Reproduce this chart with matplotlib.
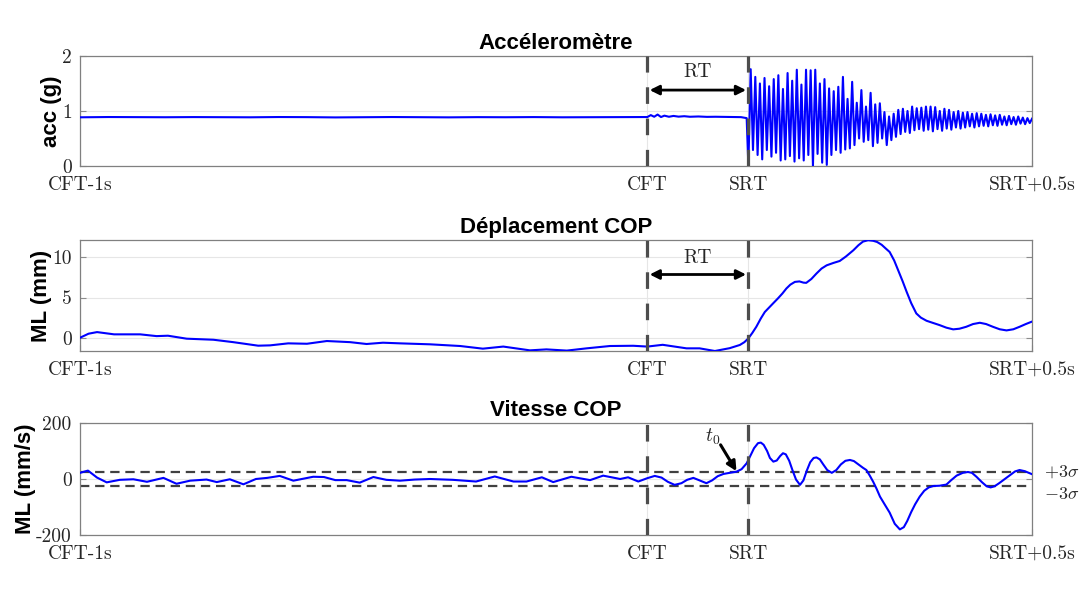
import numpy as np
import matplotlib.pyplot as plt

plt.rcParams['mathtext.fontset'] = 'cm'

# time in s, relative to CFT
cft = 0.0
srt = 0.178
t_end = srt + 0.5
tick_labels = ["CFT-1s", "CFT", "SRT", "SRT+0.5s"]

# accelerometer (g) before SRT
acc_pre_t = [-1.0, -0.95, -0.9, -0.85, -0.8, -0.75, -0.7, -0.65, -0.6, -0.55,
             -0.5, -0.45, -0.4, -0.35, -0.3, -0.25, -0.2, -0.15, -0.1, -0.05,
             0.0, 0.006, 0.012, 0.018, 0.024, 0.03, 0.038, 0.046, 0.055, 0.065,
             0.075, 0.09, 0.105, 0.12, 0.135, 0.15, 0.165, 0.175]
acc_pre = [0.885, 0.89, 0.888, 0.886, 0.889, 0.887, 0.885, 0.89, 0.888, 0.883,
           0.887, 0.89, 0.886, 0.884, 0.888, 0.886, 0.889, 0.885, 0.887, 0.888,
           0.89, 0.925, 0.895, 0.935, 0.89, 0.915, 0.895, 0.91, 0.897, 0.905,
           0.895, 0.9, 0.893, 0.895, 0.892, 0.89, 0.888, 0.87]

# accelerometer after SRT: successive troughs and peaks of the oscillation
acc_troughs = [0.0, 0.29, 0.2, 0.12, 0.29, 0.17, 0.24, 0.1, 0.12, 0.18,
               0.08, 0.14, 0.1, 0.2, 0.0, 0.22, 0.06, 0.02, 0.2, 0.29,
               0.24, 0.3, 0.32, 0.38, 0.5, 0.44, 0.47, 0.36, 0.42, 0.5,
               0.38, 0.47, 0.53, 0.58, 0.62, 0.6, 0.65, 0.67, 0.64, 0.66,
               0.63, 0.67, 0.64, 0.68, 0.66, 0.7, 0.68, 0.7, 0.72, 0.7,
               0.72, 0.73, 0.72, 0.74, 0.73, 0.75, 0.74, 0.76, 0.75, 0.77,
               0.76, 0.78]
acc_peaks = [1.76, 1.62, 1.5, 1.6, 1.45, 1.58, 1.65, 1.4, 1.69, 1.55,
             1.75, 1.48, 1.75, 1.74, 1.75, 1.5, 1.58, 1.41, 1.36, 1.44,
             1.62, 1.22, 1.53, 1.15, 1.38, 1.08, 1.33, 1.12, 1.14, 0.98,
             0.9, 0.95, 1.02, 1.04, 1.0, 1.08, 1.05, 1.06, 1.08, 1.08,
             1.07, 1.0, 1.04, 1.02, 0.98, 1.0, 0.97, 0.98, 0.95, 0.96,
             0.95, 0.93, 0.94, 0.92, 0.93, 0.9, 0.91, 0.89, 0.9, 0.88,
             0.87, 0.86]

# COP displacement ML (mm)
disp_t = [-1.0, -0.985, -0.97, -0.94, -0.894, -0.865, -0.845, -0.812, -0.765, -0.73,
          -0.686, -0.665, -0.633, -0.6, -0.565, -0.524, -0.495, -0.466, -0.436, -0.383,
          -0.33, -0.29, -0.254, -0.207, -0.178, -0.142, -0.107, -0.066, -0.025, 0.0,
          0.027, 0.069, 0.092, 0.119, 0.145, 0.163, 0.171, 0.178, 0.185, 0.192,
          0.2, 0.207, 0.213, 0.222, 0.23, 0.238, 0.245, 0.252, 0.26, 0.268,
          0.275, 0.28, 0.289, 0.298, 0.307, 0.316, 0.328, 0.339, 0.35, 0.363,
          0.372, 0.38, 0.389, 0.398, 0.405, 0.413, 0.42, 0.427, 0.435, 0.442,
          0.45, 0.457, 0.465, 0.474, 0.482, 0.492, 0.503, 0.515, 0.527, 0.539,
          0.55, 0.562, 0.574, 0.586, 0.597, 0.609, 0.621, 0.633, 0.645, 0.656,
          0.667, 0.677]
disp = [0.0, 0.5, 0.7, 0.42, 0.42, 0.2, 0.25, -0.12, -0.25, -0.55,
        -0.99, -0.95, -0.7, -0.75, -0.41, -0.55, -0.78, -0.62, -0.7, -0.82,
        -1.03, -1.36, -1.1, -1.57, -1.45, -1.6, -1.32, -1.03, -1.0, -1.1,
        -0.88, -1.32, -1.32, -1.65, -1.3, -0.9, -0.55, -0.08, 0.6, 1.36,
        2.4, 3.2, 3.64, 4.3, 4.88, 5.5, 6.12, 6.6, 6.94, 7.0,
        6.85, 6.82, 7.3, 7.98, 8.6, 9.0, 9.3, 9.54, 10.1, 10.87,
        11.5, 11.95, 12.12, 12.05, 11.9, 11.55, 11.1, 10.66, 9.6, 8.39,
        7.0, 5.7, 4.3, 3.02, 2.5, 2.11, 1.85, 1.57, 1.25, 1.04,
        1.12, 1.36, 1.7, 1.86, 1.7, 1.36, 1.05, 0.91, 1.05, 1.36,
        1.7, 1.98]

# COP velocity ML (mm/s)
vel_t = [-1.0, -0.986, -0.97, -0.953, -0.93, -0.906, -0.882, -0.853, -0.83, -0.806,
         -0.777, -0.759, -0.736, -0.712, -0.69, -0.67, -0.648, -0.624, -0.589, -0.57,
         -0.55, -0.53, -0.507, -0.483, -0.46, -0.436, -0.41, -0.383, -0.343, -0.302,
         -0.269, -0.236, -0.213, -0.186, -0.166, -0.134, -0.101, -0.078, -0.048, -0.034,
         -0.016, 0.0, 0.013, 0.025, 0.036, 0.048, 0.06, 0.07, 0.081, 0.092,
         0.104, 0.114, 0.124, 0.134, 0.145, 0.157, 0.166, 0.175, 0.182, 0.188,
         0.195, 0.2, 0.205, 0.211, 0.216, 0.222, 0.228, 0.234, 0.239, 0.244,
         0.25, 0.256, 0.262, 0.269, 0.275, 0.281, 0.287, 0.293, 0.298, 0.304,
         0.31, 0.317, 0.325, 0.333, 0.341, 0.349, 0.357, 0.364, 0.372, 0.38,
         0.386, 0.392, 0.398, 0.404, 0.41, 0.418, 0.427, 0.436, 0.445, 0.452,
         0.458, 0.465, 0.472, 0.48, 0.488, 0.496, 0.504, 0.515, 0.527, 0.535,
         0.545, 0.556, 0.565, 0.572, 0.58, 0.59, 0.598, 0.605, 0.612, 0.62,
         0.63, 0.64, 0.648, 0.656, 0.665, 0.677]
vel = [22, 30, 5, -12, -3, -1, -10, 4, -17, -6,
       -2, -11, -1, -19, 0, 4, 11, -6, 8, 7,
       -4, -4, -13, 7, -3, -6, -2, 0, -3, -9,
       9, -9, -9, 6, -11, 8, -4, 12, 0, 6,
       -9, 3, 11, 5, -10, -21, -15, -3, 4, -5,
       -15, -5, 10, 18, 22, 26, 35, 56, 85, 110,
       128, 130, 122, 100, 75, 62, 66, 82, 92, 88,
       65, 30, -2, -21, -5, 30, 60, 75, 77, 70,
       52, 32, 22, 32, 52, 65, 68, 64, 52, 40,
       32, 12, -10, -35, -63, -90, -120, -160, -180, -172,
       -150, -118, -90, -63, -42, -30, -25, -24, -20, -5,
       12, 22, 25, 22, 8, -12, -26, -30, -26, -15,
       0, 15, 27, 32, 28, 18]
sigma3 = 25  # 3 sigma threshold (mm/s)

# assemble the post-SRT accelerometer samples
acc_post = []
for tr, pk in zip(acc_troughs, acc_peaks):
    acc_post += [tr, pk]
acc_post_t = srt + np.arange(len(acc_post)) * (0.5 / (len(acc_post) - 1))
acc_t = np.concatenate([acc_pre_t, acc_post_t])
acc = np.concatenate([acc_pre, acc_post])

serif = 'cmr10'
sans = 'Liberation Sans'
blue = '#0000ff'

fig = plt.figure(figsize=(10.8, 5.93), dpi=100)
rects = [[0.0741, 0.7201, 0.8815, 0.1855],
         [0.0741, 0.4081, 0.8815, 0.1872],
         [0.0741, 0.0978, 0.8815, 0.1889]]
axes = [fig.add_axes(r) for r in rects]

titles = ["Accéleromètre", "Déplacement COP", "Vitesse COP"]
ylabels = ["acc (g)", "ML (mm)", "ML (mm/s)"]
yticks = [[0, 1, 2], [0, 5, 10], [-200, 0, 200]]
ytick_labels = [["0", "1", "2"], ["0", "5", "10"], ["-200", "0", "200"]]
ylims = [(0, 2), (-1.65, 12.15), (-200, 200)]
series = [(acc_t, acc), (disp_t, disp), (vel_t, vel)]

for ax, title, yl, yt, ytl, lim, (x, y) in zip(axes, titles, ylabels, yticks,
                                                ytick_labels, ylims, series):
    ax.plot(x, y, color=blue, lw=1.5, zorder=3)
    ax.set_xlim(-1.0, t_end)
    ax.set_ylim(*lim)
    ax.set_xticks([-1.0, cft, srt, t_end], labels=tick_labels)
    ax.set_yticks(yt, labels=ytl)
    for lab in ax.get_xticklabels() + ax.get_yticklabels():
        lab.set_fontfamily(serif)
        lab.set_fontsize(14)
        lab.set_color('0.15')
    ax.tick_params(direction='in', length=4, color='0.55', right=True, top=False)
    ax.tick_params(axis='x', pad=7)
    ax.tick_params(axis='y', pad=6)
    ax.grid(True, color='0.9', lw=0.8, zorder=0)
    for s in ax.spines.values():
        s.set_color('0.5')
        s.set_linewidth(0.9)
    ax.set_title(title, fontfamily=sans, fontweight='bold', fontsize=16, pad=5)
    ax.set_ylabel(yl, fontfamily=sans, fontweight='bold', fontsize=16, labelpad=0)
    for xv in (cft, srt):
        ln = ax.axvline(xv, color='0.3', lw=2.3, zorder=4)
        ln.set_dashes((5.2, 4.6))

# RT arrows
for ax, ya, yt in ((axes[0], 1.38, 1.71), (axes[1], 7.86, 9.9)):
    ax.annotate('', xy=(cft + 0.004, ya), xytext=(srt - 0.004, ya),
                arrowprops=dict(arrowstyle='<|-|>', color='k', lw=2,
                                mutation_scale=14, shrinkA=0, shrinkB=0),
                zorder=5)
    ax.text((cft + srt) / 2, yt, "RT", fontfamily=serif, fontsize=14,
            ha='center', va='center', color='0.15')

# +/- 3 sigma thresholds and t0
ax = axes[2]
for yv, ytxt, lab in ((sigma3, sigma3, r'$+3\sigma$'), (-sigma3, -55, r'$-3\sigma$')):
    h = ax.axhline(yv, color='0.25', lw=1.6, zorder=2)
    h.set_dashes((4.2, 2.6))
    ax.text(1.013, ytxt, lab, transform=ax.get_yaxis_transform(),
            fontsize=13, ha='left', va='center', color='0.15')
ax.text(0.115, 152, r'$t_0$', fontsize=14, ha='center', va='center', color='0.15')
ax.annotate('', xy=(0.157, 28), xytext=(0.129, 122),
            arrowprops=dict(arrowstyle='-|>', color='k', lw=2.2,
                            mutation_scale=14, shrinkA=0, shrinkB=0),
            zorder=5)

fig.savefig('out.png', dpi=100)
